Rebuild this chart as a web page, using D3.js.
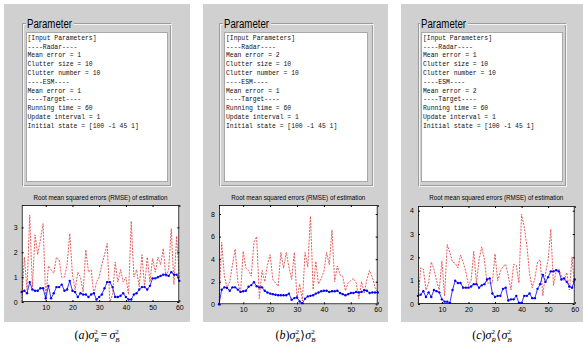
<!DOCTYPE html>
<html>
<head>
<meta charset="utf-8">
<script src="https://cdn.jsdelivr.net/npm/d3@7"></script>
<style>
  body { margin: 0; background: #fff; }
  svg { display: block; }
</style>
</head>
<body>
<svg width="583" height="344"></svg>
<script>
// ---- data ----
const radarMeanError = [1, 2, 1];
const esmMeanError = [1, 1, 2];
const captionLetters = ["a", "b", "c"];
const captionRelations = ["=", "\u27E9", "\u27E8"];
const chartTitle = "Root mean squared errors (RMSE) of estimation";

const xTicks = [10, 20, 30, 40, 50, 60];
const yTicksA = [0, 1, 2, 3];
const yTicksB = [0, 2, 4, 6, 8];
const yTicksC = [0, 1, 2, 3, 4];
const yMaxes = [3.9, 8.8, 4.2];

const blueA = [0.4, 0.45, 0.35, 0.8, 0.5, 0.45, 0.45, 0.55, 0.55, 0.15,
               0.65, 0.15, 0.35, 0.6, 0.6, 0.7, 0.45, 0.5, 0.85, 0.45,
               0.4, 0.2, 0.35, 0.3, 0.3, 0.2, 0.3, 0.35, 0.1, 0.2,
               0.3, 0.55, 0.8, 0.8, 0.6, 0.2, 0.2, 0.25, 0.35, 0.2,
               0.1, 0.1, 0.3, 0.35, 0.5, 0.6, 0.6, 0.5, 0.65, 0.95,
               0.95, 1.0, 1.05, 1.1, 1.1, 1.05, 1.2, 1.1, 1.1, 0.85];
const redA = [0.0, 1.8, 0.5, 3.5, 0.6, 2.7, 1.9, 2.5, 3.15, 0.1,
              1.45, 1.3, 1.15, 1.8, 1.7, 1.0, 1.0, 1.5, 2.75, 1.1,
              0.5, 1.2, 1.0, 0.4, 2.1, 1.2, 1.3, 0.3, 0.8, 1.0,
              1.5, 1.9, 2.35, 0.0, 0.3, 1.6, 0.8, 1.3, 0.8, 1.0,
              0.3, 3.25, 1.0, 1.3, 0.6, 1.9, 0.6, 1.8, 0.8, 1.75,
              1.2, 1.8, 1.5, 2.15, 1.0, 1.3, 2.95, 0.7, 2.65, 0.95];

const blueB = [0.0, 1.3, 1.5, 1.45, 1.2, 1.5, 1.5, 1.3, 1.1, 1.15,
               1.2, 1.55, 1.7, 1.95, 1.6, 1.5, 1.5, 1.2, 1.05, 0.95,
               0.9, 0.85, 0.8, 0.8, 0.8, 0.8, 0.95, 0.4, 0.55, 0.6,
               0.25, 0.1, 0.5, 0.7, 0.75, 0.8, 0.95, 1.05, 1.15, 1.2,
               1.2, 1.1, 1.15, 1.15, 1.2, 1.0, 0.9, 0.8, 0.9, 1.0,
               1.0, 1.1, 1.05, 1.1, 1.25, 1.2, 1.0, 1.05, 1.05, 1.05];
const redB = [0.0, 5.5, 2.5, 1.5, 2.0, 3.5, 4.9, 2.0, 1.0, 4.7,
              3.2, 3.0, 2.5, 5.5, 6.0, 0.5, 3.0, 2.0, 3.5, 4.4,
              2.2, 1.9, 1.6, 4.6, 3.2, 4.6, 3.3, 2.2, 4.6, 0.5,
              1.8, 0.3, 4.6, 3.3, 7.8, 1.3, 3.8, 1.8, 2.3, 2.9,
              4.6, 3.5, 6.6, 2.0, 3.4, 2.6, 2.5, 1.2, 1.9, 2.1,
              2.3, 1.9, 0.5, 2.0, 1.0, 2.2, 3.0, 2.4, 1.5, 1.1];

const blueC = [0.35, 0.4, 0.55, 0.3, 0.5, 0.3, 0.6, 0.55, 0.5, 0.2,
               0.1, 0.1, 0.05, 0.6, 1.0, 0.9, 0.9, 0.7, 0.7, 0.7,
               0.75, 0.85, 0.85, 0.7, 0.8, 0.85, 1.05, 1.1, 0.45, 0.3,
               0.35, 0.35, 0.65, 0.7, 0.15, 0.2, 0.2, 0.35, 0.05, 0.05,
               0.35, 0.35, 0.45, 0.25, 0.25, 0.65, 0.85, 1.25, 0.95, 1.15,
               1.4, 1.4, 1.45, 1.4, 1.05, 1.1, 0.95, 0.75, 0.7, 1.05];
const redC = [0.0, 1.55, 1.5, 0.6, 0.9, 1.8, 1.5, 1.0, 0.6, 1.85,
              0.35, 2.55, 2.2, 1.8, 1.75, 1.55, 2.1, 1.8, 1.4, 0.8,
              1.0, 2.25, 0.9, 1.9, 2.45, 1.9, 0.9, 0.9, 0.9, 2.15,
              1.0, 1.4, 1.6, 1.7, 1.2, 0.6, 1.7, 1.65, 0.9, 3.85,
              3.3, 2.5, 1.3, 0.7, 1.1, 1.8, 1.9, 0.35, 1.3, 1.9,
              3.2, 0.8, 1.4, 1.5, 1.2, 1.0, 1.35, 0.6, 2.0, 0.7];

const blueSeries = [blueA, blueB, blueC];
const redSeries = [redA, redB, redC];
const yTickSets = [yTicksA, yTicksB, yTicksC];

// ---- layout (pixel positions of each panel) ----
const layout = [
  {gx: 4,   gw: 186, fx: 22,  fw: 148, bx: 26,  bw: 141, tx: 27.5, lx: 27,  px: 21.7, pw: 157.6, py: 205, ph: 97},
  {gx: 203, gw: 185, fx: 219, fw: 153, bx: 224, bw: 143, tx: 226,  lx: 224, px: 219,  pw: 158.7, py: 205, ph: 99.3},
  {gx: 401, gw: 182, fx: 418, fw: 147, bx: 421, bw: 141, tx: 423,  lx: 421, px: 418,  pw: 156.7, py: 206, ph: 98}
];

const svg = d3.select("svg");

function paramLines(i) {
  return [
    "[Input Parameters]",
    "----Radar----",
    "Mean error = " + radarMeanError[i],
    "Clutter size = 10",
    "Clutter number = 10",
    "----ESM----",
    "Mean error = " + esmMeanError[i],
    "----Target----",
    "Running time = 60",
    "Update interval = 1",
    "Initial state = [100 -1 45 1]"
  ];
}

layout.forEach(function (L, i) {
  let g = svg.append("g");

  // gray figure background
  g.append("rect")
    .attr("x", L.gx).attr("y", 4)
    .attr("width", L.gw).attr("height", 318)
    .attr("fill", "#d0d0d0");

  // etched group frame
  g.append("rect")
    .attr("x", L.fx + 0.5).attr("y", 23.5)
    .attr("width", L.fw).attr("height", 162)
    .attr("fill", "none").attr("stroke", "#9c9c9c");
  g.append("rect")
    .attr("x", L.fx + 1.5).attr("y", 24.5)
    .attr("width", L.fw).attr("height", 162)
    .attr("fill", "none").attr("stroke", "#f4f4f4");

  // gap in the frame for the label
  g.append("rect")
    .attr("x", L.lx - 1).attr("y", 18)
    .attr("width", 48).attr("height", 10)
    .attr("fill", "#d0d0d0");
  g.append("text")
    .attr("x", L.lx).attr("y", 27.5)
    .attr("font-family", "Liberation Sans, Arial, sans-serif")
    .attr("font-size", 12)
    .attr("textLength", 45)
    .attr("lengthAdjust", "spacingAndGlyphs")
    .attr("fill", "#000")
    .text("Parameter");

  // text box
  g.append("rect")
    .attr("x", L.bx + 0.5).attr("y", 32.5)
    .attr("width", L.bw).attr("height", 149)
    .attr("fill", "#fff").attr("stroke", "#a8a8a8");

  g.append("g")
    .attr("font-family", "Liberation Mono, Courier New, monospace")
    .attr("font-size", 6.4)
    .attr("fill", "#111")
    .selectAll("text")
    .data(paramLines(i))
    .enter().append("text")
    .attr("x", L.tx)
    .attr("y", (d, k) => 39.8 + k * 8.8)
    .attr("xml:space", "preserve")
    .text(d => d);

  // ---- RMSE chart ----
  let x = d3.scaleLinear().domain([1, 60]).range([L.px, L.px + L.pw]);
  let y = d3.scaleLinear().domain([0, yMaxes[i]]).range([L.py + L.ph, L.py]);

  g.append("text")
    .attr("x", L.px + L.pw / 2).attr("y", 199.5)
    .attr("text-anchor", "middle")
    .attr("font-family", "Liberation Sans, Arial, sans-serif")
    .attr("font-size", 7)
    .attr("textLength", 134)
    .attr("lengthAdjust", "spacingAndGlyphs")
    .text(chartTitle);

  g.append("rect")
    .attr("x", L.px).attr("y", L.py)
    .attr("width", L.pw).attr("height", L.ph)
    .attr("fill", "#fff");

  let axisFont = function (sel) {
    sel.select(".domain").remove();
    sel.selectAll("text")
      .attr("font-family", "Liberation Sans, Arial, sans-serif")
      .attr("font-size", 7)
      .attr("fill", "#000");
    sel.selectAll("line").attr("stroke", "#000");
  };

  g.append("g")
    .attr("transform", "translate(" + L.px + ",0)")
    .call(d3.axisLeft(y).tickValues(yTickSets[i]).tickSizeInner(-2).tickSizeOuter(0).tickPadding(4).tickFormat(d3.format("d")))
    .call(axisFont);
  g.append("g")
    .attr("transform", "translate(" + (L.px + L.pw) + ",0)")
    .call(d3.axisRight(y).tickValues(yTickSets[i]).tickSizeInner(-2).tickSizeOuter(0).tickFormat(""))
    .call(axisFont);
  g.append("g")
    .attr("transform", "translate(0," + (L.py + L.ph) + ")")
    .call(d3.axisBottom(x).tickValues(xTicks).tickSizeInner(-2).tickSizeOuter(0).tickPadding(3).tickFormat(d3.format("d")))
    .call(axisFont);
  g.append("g")
    .attr("transform", "translate(0," + L.py + ")")
    .call(d3.axisTop(x).tickValues(xTicks).tickSizeInner(-2).tickSizeOuter(0).tickFormat(""))
    .call(axisFont);

  let line = d3.line()
    .x((d, k) => x(k + 1))
    .y(d => y(d));

  g.append("path")
    .datum(redSeries[i])
    .attr("d", line)
    .attr("fill", "none")
    .attr("stroke", "#e24848")
    .attr("stroke-width", 0.9)
    .attr("stroke-dasharray", "2,1.2");

  g.append("path")
    .datum(blueSeries[i])
    .attr("d", line)
    .attr("fill", "none")
    .attr("stroke", "#0000ff")
    .attr("stroke-width", 0.8);

  g.append("g")
    .selectAll("circle")
    .data(blueSeries[i])
    .enter().append("circle")
    .attr("cx", (d, k) => x(k + 1))
    .attr("cy", d => y(d))
    .attr("r", 1.2)
    .attr("fill", "#0000ff");

  g.append("rect")
    .attr("x", L.px + 0.5).attr("y", L.py + 0.5)
    .attr("width", L.pw - 1).attr("height", L.ph - 1)
    .attr("fill", "none").attr("stroke", "#000").attr("stroke-width", 0.8);

  // caption below the figure
  let cap = g.append("text")
    .attr("x", L.gx + L.gw / 2).attr("y", 339)
    .attr("text-anchor", "middle")
    .attr("font-family", "Liberation Serif, Times New Roman, serif")
    .attr("font-size", 12)
    .attr("fill", "#000");
  cap.append("tspan").text("(");
  cap.append("tspan").attr("font-style", "italic").text(captionLetters[i]);
  cap.append("tspan").text(")");
  cap.append("tspan").attr("font-style", "italic").text("\u03c3");
  cap.append("tspan").attr("font-size", 7).attr("dy", -5).text("2");
  cap.append("tspan").attr("font-size", 7).attr("font-style", "italic").attr("dx", -3.5).attr("dy", 8).text("R");
  cap.append("tspan").attr("dy", -3).attr("dx", i === 0 ? 2 : 0.5)
    .attr("font-family", i === 0 ? null : "DejaVu Serif, DejaVu Sans, serif")
    .text(captionRelations[i]);
  cap.append("tspan").attr("font-style", "italic").attr("dx", i === 0 ? 2 : 0.5).text("\u03c3");
  cap.append("tspan").attr("font-size", 7).attr("dy", -5).text("2");
  cap.append("tspan").attr("font-size", 7).attr("font-style", "italic").attr("dx", -3.5).attr("dy", 8).text("B");
});
</script>
</body>
</html>
